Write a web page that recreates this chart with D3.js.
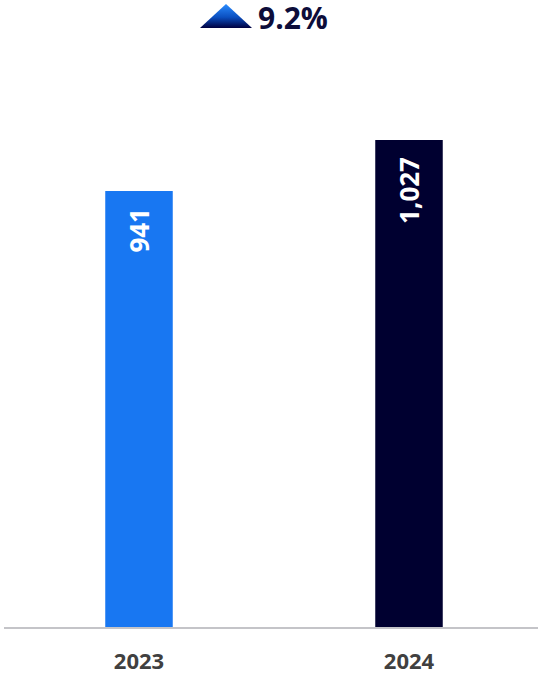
<!DOCTYPE html>
<html>
<head>
<meta charset="utf-8">
<script src="https://cdn.jsdelivr.net/npm/d3@7/dist/d3.min.js"></script>
<style>
  html, body { margin: 0; padding: 0; background: #fff; }
  svg { display: block; font-family: "Open Sans", "Noto Sans", sans-serif; }
</style>
</head>
<body>
<svg id="chart" width="538" height="675"></svg>
<script>
// Yearly totals
const years = ["2023", "2024"];
const values = [941, 1027];
const barColors = ["#1877f2", "#000030"];
const changeLabel = "9.2%";

const width = 538, height = 675;
const svg = d3.select("#chart");

const x = d3.scaleBand()
  .domain(years)
  .range([4, 544])
  .paddingInner(0.75)
  .paddingOuter(0.375);

const y = d3.scaleLinear()
  .domain([206, 1027])
  .range([627, 140]);

// gradient for the change arrow
const defs = svg.append("defs");
const grad = defs.append("linearGradient")
  .attr("id", "arrowGrad").attr("x1", 0).attr("y1", 0).attr("x2", 0).attr("y2", 1);
grad.append("stop").attr("offset", "0%").attr("stop-color", "#2a8cff");
grad.append("stop").attr("offset", "55%").attr("stop-color", "#0b4fc0");
grad.append("stop").attr("offset", "100%").attr("stop-color", "#000040");

// bars
svg.append("g").selectAll("rect")
  .data(years)
  .join("rect")
  .attr("x", d => x(d))
  .attr("width", x.bandwidth())
  .attr("y", (d, i) => y(values[i]))
  .attr("height", (d, i) => y.range()[0] - y(values[i]))
  .attr("fill", (d, i) => barColors[i]);

// value labels, rotated inside the bar top
svg.append("g").selectAll("text")
  .data(years)
  .join("text")
  .attr("transform", (d, i) => `translate(${x(d) + x.bandwidth() / 2 + 9.5},${y(values[i]) + 17}) rotate(-90)`)
  .attr("text-anchor", "end")
  .attr("fill", "#fff")
  .attr("font-weight", 700)
  .attr("font-size", 26)
  .text((d, i) => d3.format(",")(values[i]));

// baseline axis
const axis = svg.append("g")
  .attr("transform", `translate(0,${y.range()[0]})`)
  .call(d3.axisBottom(x).tickSize(0).tickPadding(26));
axis.select(".domain").attr("stroke", "#c4c4c8").attr("stroke-width", 2).attr("d", "M4,1H538");
axis.selectAll(".tick text")
  .attr("fill", "#404040")
  .attr("font-size", 22)
  .attr("font-weight", 700)
  .attr("font-family", "\"Open Sans\", sans-serif");

// change indicator
const head = svg.append("g");
head.append("path")
  .attr("d", "M200,28L226,4L252,28Z")
  .attr("fill", "url(#arrowGrad)");
head.append("text")
  .attr("x", 258)
  .attr("y", 29)
  .attr("fill", "#0d0d3a")
  .attr("font-weight", 700)
  .attr("font-size", 30)
  .text(changeLabel);
</script>
</body>
</html>
